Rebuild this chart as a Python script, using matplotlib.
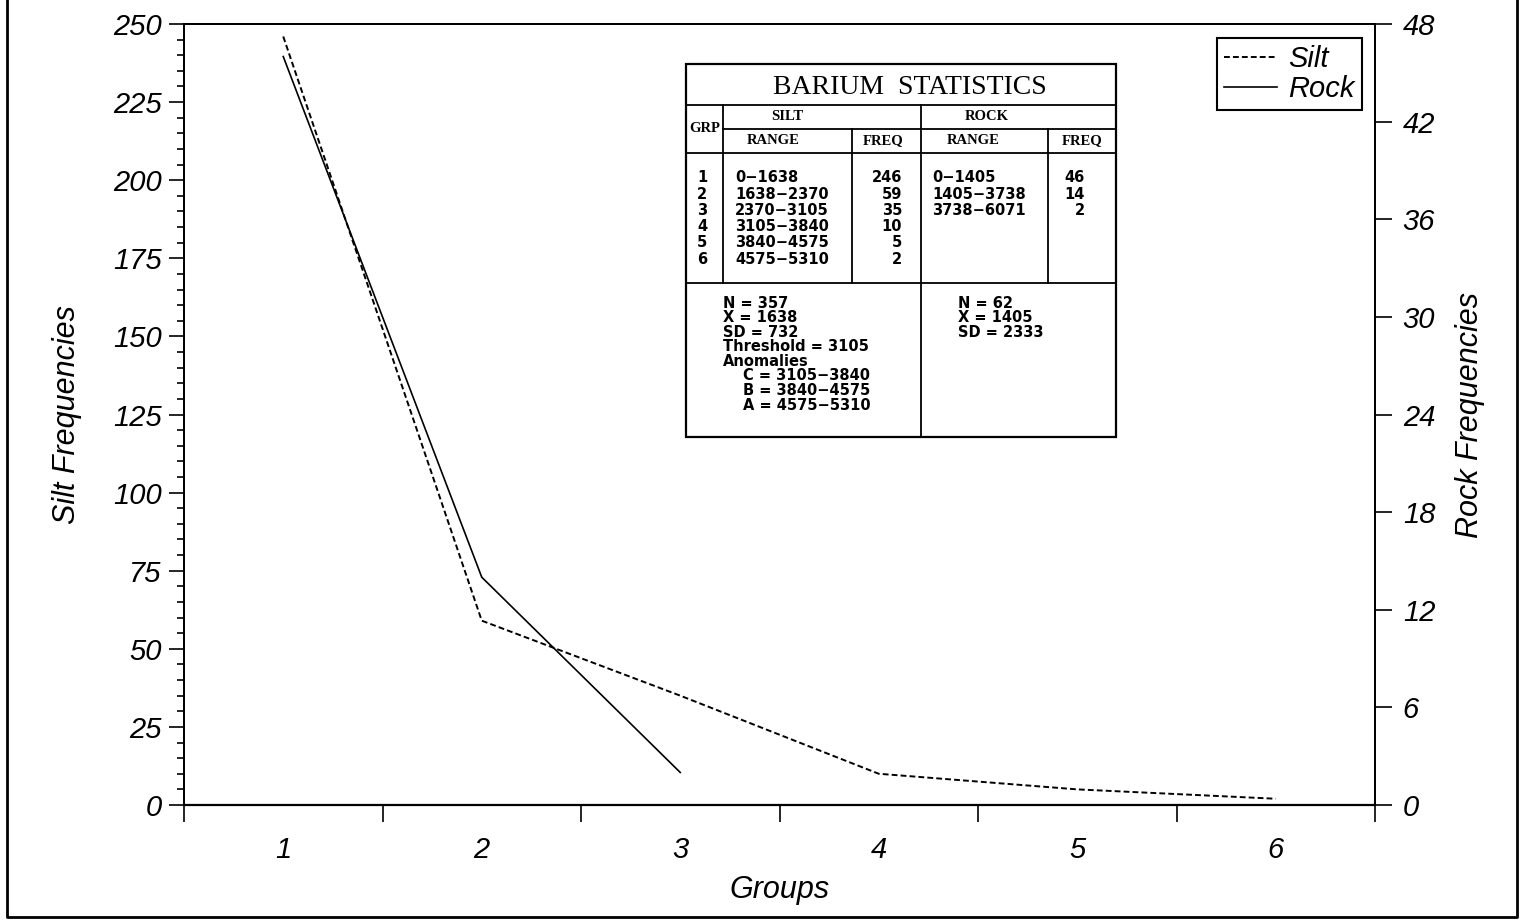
import matplotlib
matplotlib.use('Agg')
import matplotlib.pyplot as plt
from matplotlib.lines import Line2D
from matplotlib.ticker import MultipleLocator, FixedLocator

groups = [1, 2, 3, 4, 5, 6]
silt_freq = [246, 59, 35, 10, 5, 2]
rock_groups = [1, 2, 3]
rock_freq = [46, 14, 2]
silt_ranges = ['0-1638', '1638-2370', '2370-3105', '3105-3840', '3840-4575', '4575-5310']
rock_ranges = ['0-1405', '1405-3738', '3738-6071']
silt_mean, silt_sd, silt_threshold = 1638, 732, 3105
rock_mean, rock_sd = 1405, 2333
anomaly_classes = ['C', 'B', 'A']

W, H = 1522, 924
fig = plt.figure(figsize=(W / 100, H / 100), dpi=100)
sans = 'Liberation Sans'


def fx(px):
    return px / W


def fy(py):
    return 1 - py / H


ax = fig.add_axes([fx(184), fy(805), fx(1375) - fx(184), fy(24) - fy(805)])
ax2 = ax.twinx()

ax.plot(groups, silt_freq, color='black', lw=1.4, ls=(0, (3, 1.6)), label='Silt')
ax2.plot(rock_groups, rock_freq, color='black', lw=1.2, label='Rock')

ax.set_xlim(0.5, 6.5)
ax.set_ylim(0, 250)
ax2.set_ylim(0, 48)

ax.xaxis.set_major_locator(FixedLocator(groups))
ax.xaxis.set_minor_locator(MultipleLocator(1, offset=0.5))
ax.yaxis.set_major_locator(MultipleLocator(25))
ax.yaxis.set_minor_locator(MultipleLocator(5))
ax2.yaxis.set_major_locator(MultipleLocator(6))

tick_font = dict(family=sans, style='italic', size=21)
ax.set_xticklabels([str(g) for g in groups], **tick_font)
ax.tick_params(axis='x', which='major', length=0, pad=22)
ax.tick_params(axis='x', which='minor', length=12, width=1.2, direction='out')
ax.tick_params(axis='y', which='major', length=11, width=1.2, pad=5)
ax.tick_params(axis='y', which='minor', length=5, width=1.2)
ax2.tick_params(axis='y', which='major', length=12, width=1.2, pad=8)
for lab in ax.get_yticklabels() + ax2.get_yticklabels():
    lab.set_fontfamily(sans)
    lab.set_fontstyle('italic')
    lab.set_fontsize(21)

for a in (ax, ax2):
    for s in a.spines.values():
        s.set_linewidth(1.4)
ax.spines['bottom'].set_linewidth(1.6)

label_font = dict(family=sans, style='italic', size=22)
ax.set_xlabel('Groups', labelpad=8, **label_font)
ax.set_ylabel('Silt Frequencies', labelpad=22, **label_font)
ax2.set_ylabel('Rock Frequencies', labelpad=14, **label_font)

# legend
handles = [ax.get_lines()[0], ax2.get_lines()[0]]
leg = fig.legend(handles, ['Silt', 'Rock'], loc='upper right',
                 bbox_to_anchor=(fx(1362), fy(38)), borderaxespad=0,
                 prop=dict(family=sans, style='italic', size=21),
                 handlelength=1.8, handletextpad=0.4, labelspacing=0.05,
                 borderpad=0.25, fancybox=False, framealpha=1, edgecolor='black')
leg.get_frame().set_linewidth(1.5)

# statistics table drawn onto the figure
def hline(y, x0, x1, lw=1.3):
    fig.add_artist(Line2D([fx(x0), fx(x1)], [fy(y), fy(y)], color='black', lw=lw, zorder=5))


def vline(x, y0, y1, lw=1.3):
    fig.add_artist(Line2D([fx(x), fx(x)], [fy(y0), fy(y1)], color='black', lw=lw, zorder=5))


tl, tr, tt, tb = 686, 1116, 64, 437
fig.add_artist(plt.Rectangle((fx(tl), fy(tb)), fx(tr) - fx(tl), fy(tt) - fy(tb),
                             transform=fig.transFigure, facecolor='white',
                             edgecolor='black', lw=1.6, zorder=4))
hline(105, tl, tr)
hline(129, 723, tr)
hline(153, tl, tr)
hline(283, tl, tr)
vline(723, 105, 283)
vline(921, 105, tb)
vline(852, 129, 283)
vline(1048, 129, 283)

serif = 'Liberation Serif'
fig.text(fx(910), fy(88), 'BARIUM  STATISTICS', family=serif, size=20,
         ha='center', va='center', zorder=6)
hdr = dict(family=serif, weight='bold', size=10.5, ha='center', va='center', zorder=6)
fig.text(fx(705), fy(128), 'GRP', **hdr)
fig.text(fx(787), fy(117), 'SILT', **hdr)
fig.text(fx(987), fy(117), 'ROCK', **hdr)
fig.text(fx(773), fy(141), 'RANGE', **hdr)
fig.text(fx(883), fy(141), 'FREQ', **hdr)
fig.text(fx(973), fy(141), 'RANGE', **hdr)
fig.text(fx(1082), fy(141), 'FREQ', **hdr)

cell = dict(family='DejaVu Sans', weight='bold', size=10.5, va='center', zorder=6)
for i, g in enumerate(groups):
    y = fy(178 + 16.2 * i)
    fig.text(fx(697), y, str(g), ha='left', **cell)
    fig.text(fx(735), y, silt_ranges[i].replace('-', '\u2212'), ha='left', **cell)
    fig.text(fx(902), y, str(silt_freq[i]), ha='right', **cell)
for i, r in enumerate(rock_ranges):
    y = fy(178 + 16.2 * i)
    fig.text(fx(932), y, r.replace('-', '\u2212'), ha='left', **cell)
    fig.text(fx(1085), y, str(rock_freq[i]), ha='right', **cell)

silt_lines = ['N = %d' % sum(silt_freq), 'X = %d' % silt_mean, 'SD = %d' % silt_sd,
              'Threshold = %d' % silt_threshold, 'Anomalies']
for i, t in enumerate(silt_lines):
    fig.text(fx(723), fy(303 + 14.6 * i), t, ha='left', **cell)
for j, c in enumerate(anomaly_classes):
    t = '%s = %s' % (c, silt_ranges[3 + j].replace('-', '\u2212'))
    fig.text(fx(743), fy(303 + 14.6 * (5 + j)), t, ha='left', **cell)
rock_lines = ['N = %d' % sum(rock_freq), 'X = %d' % rock_mean, 'SD = %d' % rock_sd]
for i, t in enumerate(rock_lines):
    fig.text(fx(958), fy(303 + 14.6 * i), t, ha='left', **cell)

# outer frame (left, bottom, right)
fig.add_artist(Line2D([fx(7), fx(7), fx(1517), fx(1517)], [fy(0), fy(917), fy(917), fy(0)],
                      color='black', lw=2))

fig.savefig('out.png', dpi=100)
